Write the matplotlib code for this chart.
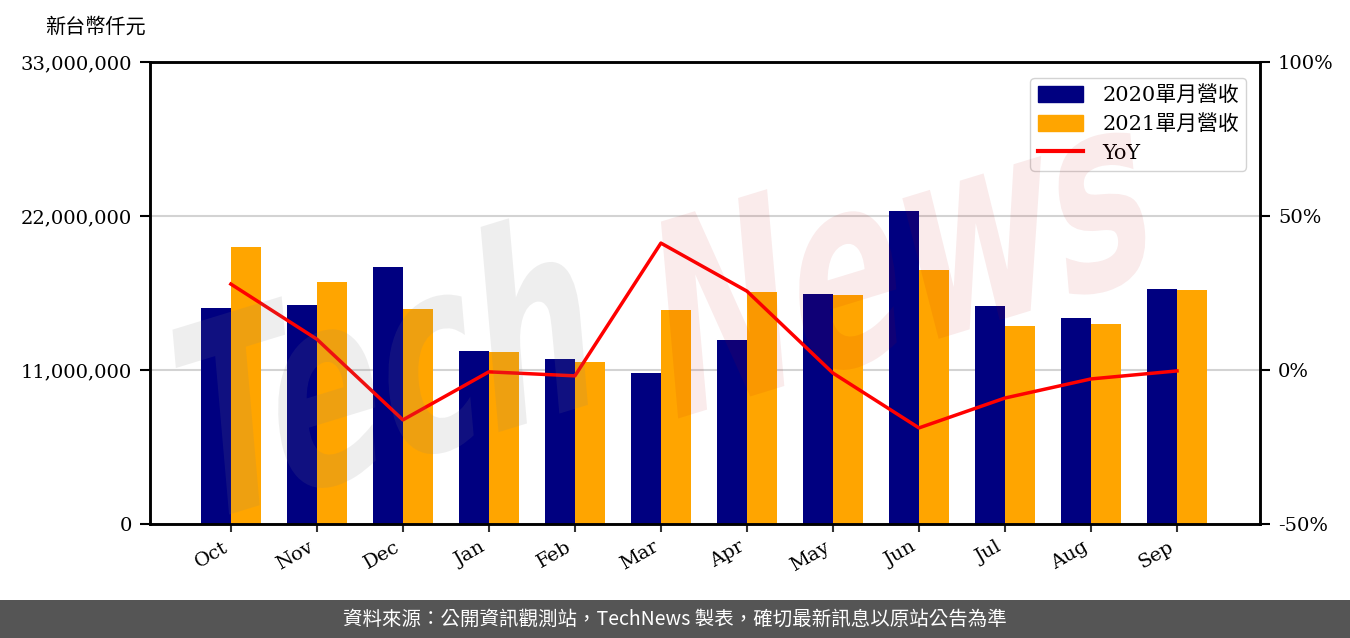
import numpy as np
import matplotlib
matplotlib.use('Agg')
import matplotlib.pyplot as plt
from matplotlib.patches import Rectangle, PathPatch, Patch
from matplotlib.lines import Line2D
from matplotlib.textpath import TextPath
from matplotlib.font_manager import FontProperties
from matplotlib.transforms import Affine2D, IdentityTransform

plt.rcParams['font.family'] = ['DejaVu Serif', 'Noto Sans CJK TC']

months = ['Oct', 'Nov', 'Dec', 'Jan', 'Feb', 'Mar', 'Apr', 'May', 'Jun', 'Jul', 'Aug', 'Sep']
rev_2020 = [15.43, 15.64, 18.36, 12.36, 11.79, 10.79, 13.14, 16.43, 22.36, 15.57, 14.71, 16.79]
rev_2021 = [19.79, 17.29, 15.36, 12.29, 11.57, 15.29, 16.57, 16.36, 18.14, 14.14, 14.29, 16.71]
yoy = [27.9, 10.0, -16.2, -0.6, -1.9, 41.2, 25.6, -1.0, -18.8, -9.1, -2.9, -0.3]
left_ticks = [0, 11000000, 22000000, 33000000]
left_labels = ['0', '11,000,000', '22,000,000', '33,000,000']
right_ticks = [-50, 0, 50, 100]
right_labels = ['-50%', '0%', '50%', '100%']

W, H = 1350, 638
fig = plt.figure(figsize=(W / 100, H / 100), dpi=100)
ax = fig.add_axes([150 / W, 1 - 524 / H, 1110 / W, 462 / H])

x = np.arange(len(months))
w = 0.35
ax.bar(x - w / 2, np.array(rev_2020) * 1e6, w, color='#000080', zorder=2)
ax.bar(x + w / 2, np.array(rev_2021) * 1e6, w, color='#FFA500', zorder=2)
ax.set_ylim(0, 33000000)
ax.set_xlim(-0.94, 11.965)
ax.set_yticks(left_ticks)
ax.set_yticklabels(left_labels, fontsize=14)
ax.set_xticks(x)
ax.set_xticklabels(months, rotation=30, ha='right', fontsize=14)
ax.yaxis.grid(True, color='#d3d3d3', lw=1.5)
ax.set_axisbelow(True)
ax.tick_params(axis='y', length=7, width=1.5, pad=6)
ax.tick_params(axis='x', length=6, width=1.5, color='#333333', pad=4)
for s in ax.spines.values():
    s.set_linewidth(1.8)

ax2 = ax.twinx()
ax2.plot(x, yoy, color='red', lw=2.5, zorder=3)
ax2.set_ylim(-50, 100)
ax2.set_yticks(right_ticks)
ax2.set_yticklabels(right_labels, fontsize=14)
ax2.tick_params(axis='y', length=7, width=1.5, pad=6)
for s in ax2.spines.values():
    s.set_linewidth(1.8)

handles = [Patch(color='#000080'), Patch(color='#FFA500'), Line2D([], [], color='red', lw=3)]
leg = ax2.legend(handles, ['2020單月營收', '2021單月營收', 'YoY'], loc='upper right',
                 prop={'size': 15}, handlelength=2.2, handleheight=0.85, borderpad=0.35,
                 labelspacing=0.45, handletextpad=0.9, edgecolor='#cccccc', fancybox=True,
                 framealpha=0.85, bbox_to_anchor=(0.997, 0.988))
leg.set_zorder(5)

# watermark
fp = FontProperties(family='DejaVu Sans', weight='bold')
def mark(txt, cx, cy, color, alpha):
    p = TextPath((0, 0), txt, size=340, prop=fp)
    ext = p.get_extents()
    tr = (Affine2D().translate(-(ext.x0 + ext.x1) / 2, -(ext.y0 + ext.y1) / 2)
          .scale(0.5, 0.78).skew_deg(12, 0).rotate_deg(17).translate(cx, H - cy))
    patch = PathPatch(tr.transform_path(p), facecolor=color, edgecolor='none',
                      alpha=alpha, transform=IdentityTransform(), zorder=10)
    fig.patches.append(patch)

mark('Tech', 380, 365, '#808080', 0.13)
mark('News', 905, 250, '#c30505', 0.08)

fig.text(95 / W, 1 - 27 / H, '新台幣仟元', fontsize=14.5, ha='center', va='center',
         family=['Noto Sans CJK TC'])

fig.patches.append(Rectangle((0, 0), 1, 38 / H, transform=fig.transFigure,
                             facecolor='#555555', edgecolor='none', zorder=0))
fig.text(0.5, 19 / H, '資料來源：公開資訊觀測站，TechNews 製表，確切最新訊息以原站公告為準',
         color='white', fontsize=14, ha='center', va='center', family=['Noto Sans CJK TC'])

fig.savefig('out.png', dpi=100)
